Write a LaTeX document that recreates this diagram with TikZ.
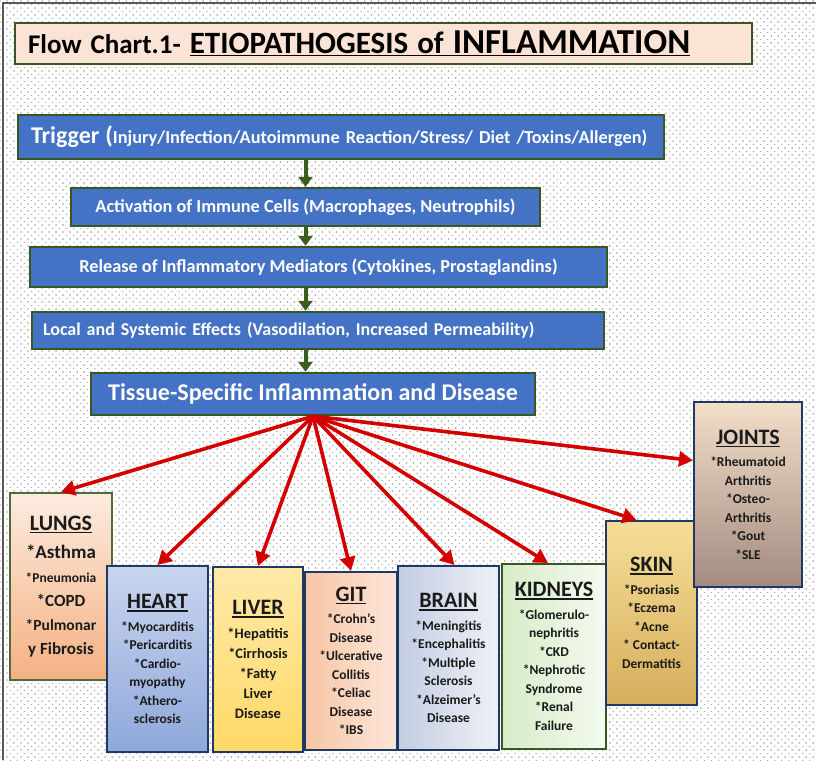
\documentclass[tikz,border=0pt]{standalone}
\usepackage{fontspec}
\setmainfont{Carlito}
\usetikzlibrary{arrows.meta,positioning}
\definecolor{FlowBlue}{HTML}{4472C4}
\definecolor{FlowEdge}{HTML}{385723}
\definecolor{FlowArrow}{HTML}{3B5E1F}
\definecolor{TitleFill}{HTML}{FBE3D6}
\definecolor{OrganNavy}{HTML}{1F3864}
\definecolor{OrganGreen}{HTML}{4E6B3A}
\definecolor{OrganText}{HTML}{1A1A1A}
\definecolor{TissueRed}{HTML}{D40000}
\definecolor{FrameGrey}{HTML}{5A5A5A}
\definecolor{BackDot}{HTML}{A9A9B0}
\definecolor{LungsTop}{HTML}{FDEBDF}
\definecolor{LungsBot}{HTML}{F4B183}
\definecolor{HeartTop}{HTML}{C9D5EE}
\definecolor{HeartBot}{HTML}{8FA8DA}
\definecolor{LiverTop}{HTML}{FFE9A8}
\definecolor{LiverBot}{HTML}{FFD966}
\definecolor{GitLeft}{HTML}{F8C6A6}
\definecolor{GitRight}{HTML}{FCE6D8}
\definecolor{BrainLeft}{HTML}{C3CDE2}
\definecolor{BrainRight}{HTML}{EEF1F7}
\definecolor{KidneyLeft}{HTML}{D7ECC8}
\definecolor{KidneyRight}{HTML}{F4FAF0}
\definecolor{SkinTop}{HTML}{F6DE98}
\definecolor{SkinBot}{HTML}{D6AE5C}
\definecolor{JointsTop}{HTML}{F3DEC9}
\definecolor{JointsBot}{HTML}{A38B80}

\newcommand{\ulhead}[1]{\setbox0\hbox{#1}\rlap{\rule[-3pt]{\wd0}{1.6pt}}\box0}
\newcommand{\organhead}[1]{{\fontsize{22}{24}\selectfont\ulhead{#1}}\\[4pt]}

\begin{document}
\begin{tikzpicture}[
  x=1pt,y=-1pt,
  dotrow/.style={draw=BackDot,line width=1.7pt,line cap=round,
    dash pattern=on 0.01pt off 7pt},
  flowbox/.style={draw=FlowEdge,fill=FlowBlue,line width=2.4pt,text=white,
    font=\fontsize{18.3}{21}\selectfont\bfseries,inner sep=0pt},
  flowarrow/.style={draw=FlowArrow,line width=4pt,
    -{Triangle[length=10pt,width=14pt]}},
  organ/.style={draw=OrganNavy,line width=2pt,align=center,inner sep=1pt,
    text=OrganText,font=\fontsize{13.5}{18.5}\selectfont\bfseries},
  spread/.style={draw=TissueRed,line width=3.6pt,
    -{Triangle[length=14pt,width=15pt]}}
]
  \useasboundingbox (0,0) rectangle (816,760);
  % dotted backdrop and frame
  \fill[white] (0,0) rectangle (816,760);
  \foreach \r in {0,...,217}{
    \pgfmathsetmacro\dotphase{mod(\r,2)*3.5}
    \draw[dotrow,dash phase=\dotphase pt] (0,\r*3.5+1) -- (816,\r*3.5+1);
  }
  \draw[FrameGrey,line width=1.2pt] (3,760) -- (3,3) -- (816,3);

  % title
  \node[draw=FlowEdge,fill=TitleFill,line width=2.4pt,inner xsep=13pt,inner ysep=0pt,
    minimum height=41pt,text width=711pt,align=left,text=black,
    font=\fontsize{27}{30}\selectfont\bfseries] (title) at (383.5,43.5)
    {Flow Chart.1- \ulhead{{\fontsize{31}{32}\selectfont ETIOPATHOGESIS of }{\fontsize{35}{38}\selectfont INFLAMMATION}}};

  % main cascade
  \node[flowbox,minimum height=44pt,inner xsep=13pt,text width=620pt,align=left] (trigger) at (341,137)
    {{\fontsize{24}{26}\selectfont Trigger (}Injury/Infection/Autoimmune Reaction/Stress/ Diet /Toxins/Allergen)};
  \node[flowbox,minimum width=469pt,minimum height=38pt] (act) at (305.5,207)
    {Activation of Immune Cells (Macrophages, Neutrophils)};
  \node[flowbox,minimum width=577pt,minimum height=40pt] (rel) at (318.5,267)
    {Release of Inflammatory Mediators (Cytokines, Prostaglandins)};
  \node[flowbox,minimum height=37pt,inner xsep=11pt,text width=550pt,align=left,
    font=\fontsize{18}{21}\selectfont\bfseries] (loc) at (318,330.5)
    {Local and Systemic Effects (Vasodilation, Increased Permeability)};
  \node[flowbox,minimum width=444pt,minimum height=42pt,
    font=\fontsize{24}{27}\selectfont\bfseries] (tissue) at (313,394)
    {Tissue-Specific Inflammation and Disease};

  \draw[flowarrow] (trigger.south -| act.north) -- (act.north);
  \draw[flowarrow] (act.south) -- (rel.north -| act.south);
  \draw[flowarrow] (rel.south -| act.south) -- (loc.north -| act.south);
  \draw[flowarrow] (loc.south -| act.south) -- (tissue.north -| act.south);

  % organ boxes
  \node[organ,draw=OrganGreen,top color=LungsTop,bottom color=LungsBot,
    minimum width=102pt,minimum height=187pt,
    font=\fontsize{17}{24}\selectfont\bfseries] (lungs) at (61,586.5)
    {\organhead{LUNGS}
     {\fontsize{19}{24}\selectfont *Asthma}\\
     {\fontsize{13.5}{24}\selectfont *Pneumonia}\\
     *COPD\\
     {\fontsize{15.5}{24}\selectfont *Pulmonar}\\
     y Fibrosis};
  \node[organ,top color=HeartTop,bottom color=HeartBot,
    minimum width=101pt,minimum height=186pt] (heart) at (157.5,659)
    {\organhead{HEART}
     *Myocarditis\\ *Pericarditis\\ *Cardio-\\ myopathy\\ *Athero-\\ sclerosis};
  \node[organ,top color=LiverTop,bottom color=LiverBot,
    minimum width=90pt,minimum height=185pt,
    font=\fontsize{14.5}{20}\selectfont\bfseries] (liver) at (258,659.5)
    {\organhead{LIVER}
     *Hepatitis\\ *Cirrhosis\\ *Fatty\\ Liver\\ Disease};
  \node[organ,left color=GitLeft,right color=GitRight,
    minimum width=92pt,minimum height=178pt] (git) at (351,661)
    {\organhead{GIT}
     *Crohn's\\ Disease\\ *Ulcerative\\ Collitis\\ *Celiac\\ Disease\\ *IBS};
  \node[organ,left color=BrainLeft,right color=BrainRight,
    minimum width=101pt,minimum height=184pt] (brain) at (448.5,658)
    {\organhead{BRAIN}
     *Meningitis\\ *Encephalitis\\ *Multiple\\ Sclerosis\\ *Alzeimer's\\ Disease};
  \node[organ,draw=FlowEdge,left color=KidneyLeft,right color=KidneyRight,
    minimum width=104pt,minimum height=185pt] (kidneys) at (554,656.5)
    {\organhead{KIDNEYS}
     *Glomerulo-\\ nephritis\\ *CKD\\ *Nephrotic\\ Syndrome\\ *Renal\\ Failure};
  \node[organ,top color=SkinTop,bottom color=SkinBot,
    minimum width=91pt,minimum height=184pt] (skin) at (651.5,613)
    {\organhead{SKIN}
     *Psoriasis\\ *Eczema\\ *Acne\\ * Contact-\\ Dermatitis};
  \node[organ,top color=JointsTop,bottom color=JointsBot,
    minimum width=108pt,minimum height=185pt] (joints) at (748,494.5)
    {\organhead{JOINTS}
     *Rheumatoid\\ Arthritis\\ *Osteo-\\ Arthritis\\ *Gout\\ *SLE};

  % spread from the tissue box to each organ
  \draw[spread] (tissue.south) -- (lungs.north);
  \draw[spread] (tissue.south) -- (heart.north);
  \draw[spread] (tissue.south) -- (liver.north);
  \draw[spread] (tissue.south) -- (git.north);
  \draw[spread] (tissue.south) -- ([xshift=6pt]brain.north);
  \draw[spread] (tissue.south) -- ([xshift=-6pt]kidneys.north);
  \draw[spread] (tissue.south) -- ([xshift=-15pt]skin.north);
  \draw[spread] (tissue.south) -- ([yshift=34pt]joints.west);
\end{tikzpicture}
\end{document}
